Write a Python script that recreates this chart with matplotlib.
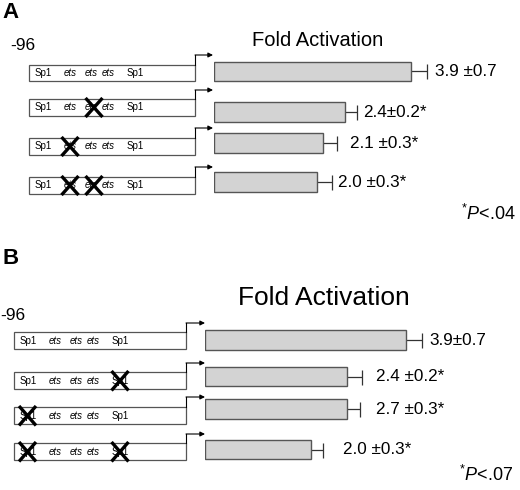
import numpy as np
import matplotlib
matplotlib.use('Agg')
import matplotlib.pyplot as plt

plt.rcParams['font.family'] = ['Liberation Sans', 'DejaVu Sans']
plt.rcParams['mathtext.fontset'] = 'custom'
plt.rcParams['mathtext.rm'] = 'Liberation Sans'
plt.rcParams['mathtext.it'] = 'Liberation Sans:italic'

########## data ##########
sites = ['Sp1', 'ets', 'ets', 'ets', 'Sp1']
mut_a = [[], [2], [1], [1, 2]]          # which sites are crossed out
mut_b = [[], [4], [0], [0, 4]]

fold_a = [3.86, 2.57, 2.14, 2.02]       # bar lengths as drawn
err_a = [0.32, 0.23, 0.28, 0.30]
lab_a = ['3.9 ±0.7', '2.4±0.2*', '2.1 ±0.3*', '2.0 ±0.3*']

fold_b = [3.94, 2.78, 2.78, 2.08]
err_b = [0.31, 0.29, 0.25, 0.23]
lab_b = ['3.9±0.7', '2.4 ±0.2*', '2.7 ±0.3*', '2.0 ±0.3*']

pval_a = '.04'
pval_b = '.07'

########## layout (pixels) ##########
W, H = 520, 490
PX = 51.0        # pixels per fold unit
site_dx = [6, 34.5, 56, 72.5, 97.5]
mark_dx = [13.5, 41, 65, 78, 106]

panel_a = dict(letter='A', letter_y=12, m96=(10, 46), title=(318, 40, 14.5),
               box_l=29, box_r=195, box_top=[65, 99, 138, 177], box_h=16.5,
               arrow_y=[55, 90, 128, 167], arrow_end=213,
               bar_l=214, bar_y=[71.5, 112, 143, 182], bar_h=19.5,
               lab_x=[435, 363, 350, 338], lab_fs=12.3,
               p_xy=(461, 214))
panel_b = dict(letter='B', letter_y=258, m96=(0, 315), title=(324, 298, 19),
               box_l=14, box_r=186, box_top=[332, 372, 407, 443], box_h=17,
               arrow_y=[323, 363, 397, 434], arrow_end=205,
               bar_l=205, bar_y=[340, 376.5, 409, 449.5], bar_h=19.5,
               lab_x=[429, 376, 376, 343], lab_fs=12.3,
               p_xy=(459, 475))

fig = plt.figure(figsize=(W / 100, H / 100), dpi=100)
ax = fig.add_axes([0, 0, 1, 1])
ax.set_xlim(0, W)
ax.set_ylim(H, 0)
ax.axis('off')


def draw_panel(p, mut, fold, err, labels, pval):
    ax.text(2, p['letter_y'], p['letter'], fontsize=16, fontweight='bold', va='center')
    ax.text(p['m96'][0], p['m96'][1], '-96', fontsize=12.5, va='center')
    ax.text(p['title'][0], p['title'][1], 'Fold Activation', fontsize=p['title'][2],
            ha='center', va='center')

    # promoter constructs
    for i, top in enumerate(p['box_top']):
        l, r, h = p['box_l'], p['box_r'], p['box_h']
        ax.add_patch(plt.Rectangle((l, top), r - l, h, fill=False, ec='#555555', lw=0.9))
        yc = top + h / 2
        for s, dx in zip(sites, site_dx):
            ax.text(l + dx, yc, s, fontsize=7, va='center',
                    style='italic' if s == 'ets' else 'normal')
        for k in mut[i]:
            xc = l + mark_dx[k]
            ax.plot([xc - 8.5, xc + 8.5], [top - 1, top + h + 1.5], color='k', lw=2.4,
                    solid_capstyle='butt')
            ax.plot([xc - 8.5, xc + 8.5], [top + h + 1.5, top - 1], color='k', lw=2.4,
                    solid_capstyle='butt')
        ay = p['arrow_y'][i]
        ax.plot([r, r], [top, ay], color='k', lw=0.8)
        ax.annotate('', xy=(p['arrow_end'], ay), xytext=(r, ay),
                    arrowprops=dict(arrowstyle='-|>', lw=0.8, color='k',
                                    mutation_scale=7, shrinkA=0, shrinkB=0))

    # bars in fold units
    bx = fig.add_axes([p['bar_l'] / W, 0, (W - p['bar_l']) / W, 1])
    bx.set_xlim(0, (W - p['bar_l']) / PX)
    bx.set_ylim(H, 0)
    bx.axis('off')
    bx.errorbar(fold, p['bar_y'], xerr=err, fmt='none', ecolor='#333333',
                elinewidth=0.9, capsize=5.4, capthick=0.9, zorder=1)
    bx.barh(p['bar_y'], fold, height=p['bar_h'], color='#d3d3d3',
            edgecolor='#555555', linewidth=1.0, zorder=2)

    for lx, y, t in zip(p['lab_x'], p['bar_y'], labels):
        ax.text(lx, y, t, fontsize=p['lab_fs'], va='center')

    ax.text(p['p_xy'][0], p['p_xy'][1], r'$^{*}\mathit{P}$<' + pval, fontsize=13,
            va='center')


draw_panel(panel_a, mut_a, fold_a, err_a, lab_a, pval_a)
draw_panel(panel_b, mut_b, fold_b, err_b, lab_b, pval_b)

fig.savefig('out.png', dpi=100)
